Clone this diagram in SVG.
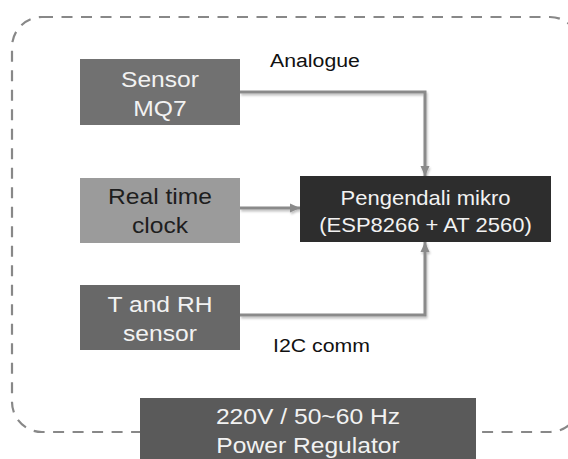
<svg xmlns="http://www.w3.org/2000/svg" width="568" height="459" viewBox="0 0 568 459">
  <style>
    .box text { font-family: "Liberation Sans", Arial, sans-serif; font-size: 22px; text-anchor: middle; }
    .light { fill: #f2f2f2; }
    .dark { fill: #1e1e1e; }
    .label { font-family: "Liberation Sans", Arial, sans-serif; font-size: 19px; fill: #111; }
    .conn { fill: none; stroke: #8a8a8a; stroke-width: 3; marker-end: url(#arrow); filter: url(#shadow); }
    .border { fill: none; stroke: #888; stroke-width: 2.2; stroke-dasharray: 11 8.5; }
  </style>
  <defs>
    <marker id="arrow" markerUnits="userSpaceOnUse" markerWidth="10" markerHeight="10" refX="10" refY="5" orient="auto">
      <path d="M0,0.5 L10,5 L0,9.5 z" fill="#8a8a8a"/>
    </marker>
    <filter id="shadow" filterUnits="userSpaceOnUse" x="0" y="0" width="568" height="459">
      <feDropShadow dx="1" dy="2" stdDeviation="1.2" flood-color="#000" flood-opacity="0.25"/>
    </filter>
  </defs>
  <rect width="568" height="459" fill="#fff"/>
  <rect class="border" x="12" y="17" width="568" height="415" rx="30" ry="30"/>

  <g id="connectors">
    <path class="conn" d="M240,92 H425 V176"/>
    <path class="conn" d="M240,208 H300"/>
    <path class="conn" d="M240,315 H425 V242"/>
  </g>

  <g id="sensor-mq7" class="box">
    <rect x="80" y="59" width="160" height="66" fill="#717171"/>
    <text class="light" transform="translate(160,87) scale(1.12,1)">Sensor</text>
    <text class="light" transform="translate(160,116) scale(1.12,1)">MQ7</text>
  </g>

  <g id="rtc" class="box">
    <rect x="80" y="178" width="160" height="65" fill="#9b9b9b"/>
    <text class="dark" transform="translate(160,204) scale(1.12,1)">Real time</text>
    <text class="dark" transform="translate(160,233) scale(1.12,1)">clock</text>
  </g>

  <g id="t-rh-sensor" class="box">
    <rect x="80" y="285" width="160" height="65" fill="#686868"/>
    <text class="light" transform="translate(160,312) scale(1.12,1)">T and RH</text>
    <text class="light" transform="translate(160,341) scale(1.12,1)">sensor</text>
  </g>

  <g id="mcu" class="box">
    <rect x="300" y="176" width="251" height="66" fill="#2d2d2d"/>
    <text class="light" transform="translate(425.5,205) scale(1.1,1)" style="font-size:20px">Pengendali mikro</text>
    <text class="light" transform="translate(425.5,232) scale(1.1,1)" style="font-size:20px">(ESP8266 + AT 2560)</text>
  </g>

  <g id="power-regulator" class="box">
    <rect x="140" y="398" width="336" height="61" fill="#5a5a5a"/>
    <text class="light" transform="translate(308,424) scale(1.12,1)">220V / 50~60 Hz</text>
    <text class="light" transform="translate(308,453) scale(1.12,1)">Power Regulator</text>
  </g>

  <g id="labels">
    <text class="label" transform="translate(270,67) scale(1.12,1)">Analogue</text>
    <text class="label" transform="translate(273,352) scale(1.12,1)">I2C comm</text>
  </g>
</svg>
